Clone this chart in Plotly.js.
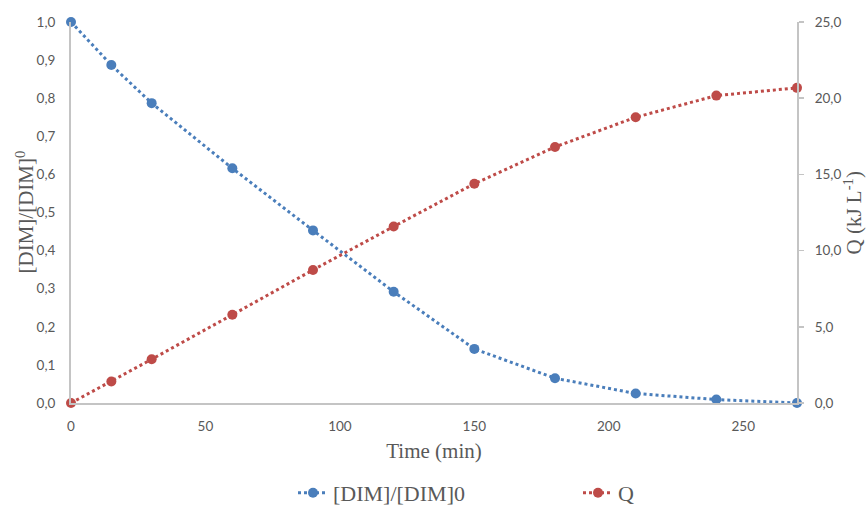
<!DOCTYPE html>
<html><head><meta charset="utf-8">
<script src="https://cdn.plot.ly/plotly-3.0.1.min.js"></script>
<style>body{margin:0;background:#fff}#chart{width:867px;height:506px}</style>
</head><body><div id="chart"></div>
<script>
const time = [0, 15, 30, 60, 90, 120, 150, 180, 210, 240, 270];
const dimRatio = [1.0, 0.887, 0.787, 0.616, 0.453, 0.292, 0.142, 0.065, 0.025, 0.009, 0.0];
const qValues = [0.0, 1.41, 2.87, 5.79, 8.73, 11.58, 14.39, 16.8, 18.75, 20.17, 20.68];
const xTicks = [0, 50, 100, 150, 200, 250];

const gray = '#595959';
const axisLine = '#c4c4c4';
const tickFont = {family: 'Lato, Liberation Sans, Arial, sans-serif', size: 13.5, color: gray};
const titleFont = {family: 'Liberation Serif, Times New Roman, serif', size: 21, color: gray};

const traces = [
  {x: time, y: dimRatio, name: '[DIM]/[DIM]0', type: 'scatter', mode: 'lines+markers', cliponaxis: false,
   line: {color: '#4A7EBB', width: 3, dash: 'dot'}, marker: {color: '#4A7EBB', size: 10}, yaxis: 'y'},
  {x: time, y: qValues, name: 'Q', type: 'scatter', mode: 'lines+markers', cliponaxis: false,
   line: {color: '#BE4B48', width: 3, dash: 'dot'}, marker: {color: '#BE4B48', size: 10}, yaxis: 'y2'}
];

const plotL = 71, plotW = 726;
const layout = {
  width: 867, height: 506,
  margin: {l: 71, r: 70, t: 22, b: 103},
  paper_bgcolor: '#fff', plot_bgcolor: '#fff',
  separators: ', ',
  showlegend: true,
  legend: {orientation: 'h', xref: 'container', yref: 'container',
           x: 293 / 867, xanchor: 'left', y: 1 - 493 / 506, yanchor: 'middle',
           font: {family: 'Liberation Serif, Times New Roman, serif', size: 22, color: gray},
           entrywidth: 240, entrywidthmode: 'pixels', bgcolor: 'rgba(0,0,0,0)'},
  xaxis: {range: [0, 270], tickvals: xTicks, ticktext: xTicks.map(String), automargin: false,
          showgrid: false, zeroline: false, showline: true, linecolor: axisLine, linewidth: 2,
          ticks: '', ticklabelstandoff: 10, tickfont: tickFont,
          title: {text: 'Time (min)', font: titleFont, standoff: 10}},
  yaxis: {range: [0, 1], dtick: 0.1, tickformat: '.1f', showgrid: false, zeroline: false, automargin: false,
          showline: true, linecolor: axisLine, linewidth: 2, ticks: '', ticklabelstandoff: 11, tickfont: tickFont},
  yaxis2: {range: [0, 25], dtick: 5, tickformat: '.1f', overlaying: 'y', side: 'right', automargin: false,
           showgrid: false, zeroline: false, showline: true, linecolor: axisLine, linewidth: 2,
           ticks: 'outside', ticklen: 5, tickwidth: 1.5, tickcolor: axisLine, ticklabelstandoff: 8, tickfont: tickFont},
  annotations: [
    {text: '[DIM]/[DIM]<sup>0</sup>', xref: 'paper', yref: 'paper', x: (25 - plotL) / plotW, y: 0.5,
     xanchor: 'center', yanchor: 'middle', textangle: -90, showarrow: false, font: titleFont},
    {text: 'Q (kJ L<sup>-1</sup>)', xref: 'paper', yref: 'paper', x: (853 - plotL) / plotW, y: 0.5,
     xanchor: 'center', yanchor: 'middle', textangle: -90, showarrow: false, font: titleFont}
  ]
};

Plotly.newPlot('chart', traces, layout, {displayModeBar: false, staticPlot: true});
</script></body></html>
